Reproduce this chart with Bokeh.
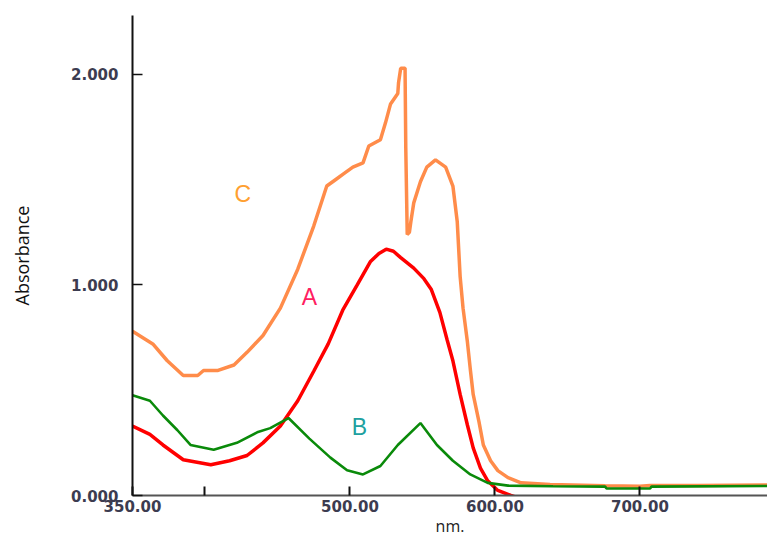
from bokeh.plotting import figure
from bokeh.models import Range1d, FixedTicker, Label, NumeralTickFormatter
from bokeh.embed import file_html
from bokeh.resources import INLINE

# ---- data ----
wl_A = [350, 362, 371, 385, 404, 417, 429, 440, 452, 464, 475, 485, 495, 505, 514, 520,
        525, 530, 535, 544, 551, 556, 562, 567, 571, 576, 581, 585, 590, 595, 602, 611,
        620, 788]
abs_A = [0.33, 0.29, 0.24, 0.17, 0.146, 0.165, 0.19, 0.25, 0.33, 0.45, 0.59, 0.72, 0.88,
         1.0, 1.11, 1.15, 1.17, 1.16, 1.13, 1.08, 1.03, 0.98, 0.87, 0.74, 0.64, 0.48, 0.335,
         0.226, 0.13, 0.07, 0.024, 0.0, -0.02, -0.02]

wl_B = [350, 362, 371, 381, 390, 406, 422, 436, 445, 457.6, 472, 486.5, 498, 509, 521, 533,
        548.6, 560, 571, 583, 595, 609, 640, 676, 677, 707, 708, 788]
abs_B = [0.476, 0.45, 0.38, 0.31, 0.24, 0.217, 0.25, 0.30, 0.32, 0.368, 0.27, 0.18, 0.12,
         0.10, 0.14, 0.24, 0.344, 0.24, 0.165, 0.10, 0.06, 0.047, 0.044, 0.042, 0.033,
         0.033, 0.042, 0.045]

wl_C = [350, 364, 374, 385, 395, 399, 409, 420, 429, 440, 452, 464, 475, 484, 490, 496, 502,
        509, 513, 521, 524.5, 528, 533, 533.5, 535, 538, 538.5, 539.5, 541, 542, 544, 548.6,
        553, 559, 566, 571, 574, 576, 578, 581, 583, 585, 589, 592, 597, 602, 609, 618, 638,
        676, 700, 707, 740, 788]
abs_C = [0.78, 0.72, 0.64, 0.57, 0.57, 0.594, 0.594, 0.62, 0.68, 0.76, 0.89, 1.075, 1.28,
         1.47, 1.50, 1.53, 1.56, 1.58, 1.66, 1.69, 1.77, 1.86, 1.91, 1.96, 2.03, 2.03, 1.65,
         1.24, 1.25, 1.30, 1.39, 1.49, 1.56, 1.594, 1.56, 1.47, 1.30, 1.04, 0.89, 0.73, 0.60,
         0.48, 0.35, 0.24, 0.165, 0.118, 0.085, 0.06, 0.052, 0.046, 0.044, 0.048, 0.048, 0.05]

x_ticks = [350, 400, 500, 600, 700]
y_ticks = [0, 1, 2]
x_title = "nm."
y_title = "Absorbance"

X_END = 788
p = figure(width=767, height=539, output_backend="svg", toolbar_location=None,
           x_range=Range1d(350, X_END), y_range=Range1d(0, 2.28),
           min_border_left=132, min_border_right=0, min_border_top=15, min_border_bottom=41)
p.outline_line_color = None
p.grid.visible = False

p.line(wl_C, abs_C, line_color="#FF8C4A", line_width=3.5)
p.line(wl_A, abs_A, line_color="#FF0000", line_width=3.5)
p.line(wl_B, abs_B, line_color="#0A8A0A", line_width=2.6)

tick_font = "DejaVu Sans"
tick_color = "#3C3C50"
# x axis
xa = p.xaxis[0]
xa.ticker = FixedTicker(ticks=x_ticks)
xa.formatter = NumeralTickFormatter(format="0.00")
xa.major_label_overrides = {400: ""}
xa.minor_tick_line_color = None
xa.major_tick_in = 9
xa.major_tick_out = 0
xa.major_tick_line_color = "#111111"
xa.major_tick_line_width = 2
xa.axis_line_color = "#555555"
xa.axis_line_width = 2
xa.major_label_text_font = tick_font
xa.major_label_text_font_style = "bold"
xa.major_label_text_font_size = "15px"
xa.major_label_text_color = tick_color
xa.major_label_standoff = 4
xa.axis_label = x_title
xa.axis_label_text_font = "Open Sans"
xa.axis_label_text_font_style = "normal"
xa.axis_label_text_font_size = "16px"
xa.axis_label_text_color = "#222222"
xa.axis_label_standoff = 0

# y axis
ya = p.yaxis[0]
ya.ticker = FixedTicker(ticks=y_ticks)
ya.formatter = NumeralTickFormatter(format="0.000")
ya.minor_tick_line_color = None
ya.major_tick_in = 10
ya.major_tick_out = 0
ya.major_tick_line_color = "#111111"
ya.major_tick_line_width = 1.5
ya.axis_line_color = "#111111"
ya.axis_line_width = 2
ya.major_label_text_font = tick_font
ya.major_label_text_font_style = "bold"
ya.major_label_text_font_size = "15px"
ya.major_label_text_color = tick_color
ya.major_label_standoff = 14
ya.axis_label = y_title
ya.axis_label_text_font = "Open Sans"
ya.axis_label_text_font_style = "normal"
ya.axis_label_text_font_size = "18px"
ya.axis_label_text_color = "#111111"
ya.axis_label_standoff = 34

# curve labels
for txt, xx, yy, col in [("C", 426, 1.43, "#FFA030"), ("A", 472, 0.943, "#FF2060"),
                         ("B", 506.6, 0.325, "#20A0A0")]:
    p.add_layout(Label(x=xx, y=yy, text=txt, text_color=col, text_font="Liberation Sans",
                       text_font_size="23px", text_align="center", text_baseline="middle"))

open("out.html", "w").write(file_html(p, INLINE))
